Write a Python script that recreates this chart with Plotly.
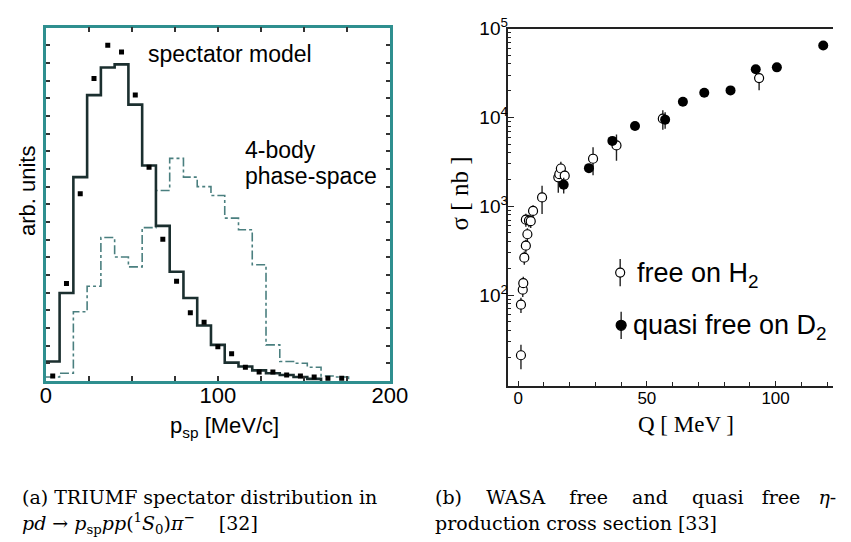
import plotly.graph_objects as go

# ---------------- Left panel: TRIUMF spectator distribution ----------------
hist_edges = [0, 8, 16, 24, 32, 40, 48, 56, 64, 72, 80, 88, 96, 104, 112, 120,
              128, 136, 144, 152, 160, 168, 176]
spectator_model = [5.5, 24.9, 57.7, 80.9, 88.7, 89.6, 78.2, 61.0, 43.9, 30.9,
                   23.5, 15.7, 10.2, 5.2, 4.1, 3.0, 2.2, 1.7, 1.1, 0.6]
phase_space = [1.1, 2.2, 19.6, 26.8, 40.6, 35.1, 32.3, 43.4, 53.9, 63.0, 57.7,
               55.0, 52.5, 46.1, 42.8, 32.9, 10.2, 5.5, 5.0, 3.9, 1.4, 1.1]
data_p = [4, 12, 20, 28, 36, 44, 52, 60, 68, 76, 84, 92, 100, 108, 116, 124,
          132, 140, 148, 156, 164, 172]
data_counts = [1.4, 27.6, 53.0, 85.6, 95.0, 93.1, 80.9, 60.5, 40.1, 28.2, 19.3,
               16.6, 9.7, 7.7, 3.9, 2.5, 2.5, 1.7, 1.4, 1.1, 0.8, 0.8]

# ---------------- Right panel: WASA eta cross sections ----------------
free_Q = [1.1, 1.1, 1.8, 2.0, 2.4, 3.0, 3.6, 3.0, 4.2, 4.9, 5.8, 9.3, 15.6, 16.0,
          16.6, 18.1, 29.1, 38.2, 56.2, 93.6]
free_sigma = [21, 78, 115, 136, 264, 360, 484, 706, 690, 680, 887, 1256, 2118,
              2300, 2661, 2209, 3428, 4843, 9680, 27740]
free_err_up = [6.5, 15, 20, 25, 45, 60, 80, 120, 110, 110, 140, 450, 700, 500,
               500, 400, 1200, 1600, 2400, 3500]
free_err_dn = [6.4, 15, 20, 25, 45, 60, 80, 120, 110, 110, 140, 440, 700, 500,
               500, 400, 1200, 1600, 2400, 7500]

quasi_Q = [17.7, 27.5, 36.6, 45.4, 57.1, 64.0, 72.3, 82.5, 92.3, 100.5, 118.5]
quasi_sigma = [1746, 2686, 5445, 8020, 9440, 15000, 18970, 20150, 34800, 36620, 64580]
quasi_err = [350, 200, 400, 600, 2000, 1000, 1400, 1500, 2600, 2700, 4500]

sigma_tickvals = [100, 1000, 10000, 100000]
sigma_ticktext = ["10<sup>2</sup>", "10<sup>3</sup>", "10<sup>4</sup>", "10<sup>5</sup>"]

legend_labels = ["free on H<sub>2</sub>", "quasi free on D<sub>2</sub>"]

W, H = 851, 542
def px_x(p):
    return p / W
def px_y(p):
    return 1 - p / H

teal = "#2f8f8f"
hist_dark = "#1b2f2f"
sans = "Liberation Sans, Arial, sans-serif"
serif = "Liberation Serif, Times New Roman, serif"
cm = "DejaVu Serif, serif"

fig = go.Figure()

# Left panel traces
fig.add_trace(go.Scatter(
    x=hist_edges[:len(phase_space) + 1], y=phase_space + [0], mode="lines",
    line=dict(shape="hv", color="#4a7f7f", width=1.6, dash="dashdot"),
    xaxis="x", yaxis="y", showlegend=False))
fig.add_trace(go.Scatter(
    x=hist_edges[:len(spectator_model) + 1], y=spectator_model + [0], mode="lines",
    line=dict(shape="hv", color=hist_dark, width=2.6),
    xaxis="x", yaxis="y", showlegend=False))
fig.add_trace(go.Scatter(
    x=data_p, y=data_counts, mode="markers",
    marker=dict(symbol="square", size=5, color="black"),
    xaxis="x", yaxis="y", showlegend=False))

# Right panel traces
fig.add_trace(go.Scatter(
    x=free_Q, y=free_sigma, mode="markers", name=legend_labels[0],
    marker=dict(symbol="circle", size=9, color="white",
                line=dict(color="black", width=1.2)),
    error_y=dict(type="data", array=free_err_up, arrayminus=free_err_dn,
                 color="#222", thickness=1.4, width=0),
    xaxis="x2", yaxis="y2", showlegend=False))
fig.add_trace(go.Scatter(
    x=quasi_Q, y=quasi_sigma, mode="markers", name=legend_labels[1],
    marker=dict(symbol="circle", size=10, color="black"),
    error_y=dict(type="data", array=quasi_err, color="#222", thickness=1.4, width=0),
    xaxis="x2", yaxis="y2", showlegend=False))

fig.update_layout(
    width=W, height=H,
    margin=dict(l=0, r=0, t=0, b=0),
    paper_bgcolor="white", plot_bgcolor="white",
    font=dict(family=sans, color="black"),
    showlegend=False,
    xaxis=dict(
        domain=[px_x(41), px_x(395)], range=[0, 200], anchor="y",
        showline=True, linecolor=teal, linewidth=2.5, mirror="ticks",
        showgrid=False, zeroline=False,
        dtick=100, tick0=0, ticks="inside", ticklen=5, tickwidth=2, tickcolor="#333",
        minor=dict(dtick=25, ticks="inside", ticklen=5, tickwidth=2, tickcolor="#333"),
        tickfont=dict(size=22, family=sans),
        ticklabelstandoff=-7,
    ),
    yaxis=dict(
        domain=[px_y(377), px_y(15)], range=[0, 100], anchor="x",
        showline=True, linecolor=teal, linewidth=2.5, mirror="ticks",
        showgrid=False, zeroline=False,
        dtick=5, tick0=0, ticks="inside", ticklen=4, tickwidth=2, tickcolor="#333",
        showticklabels=False,
    ),
    xaxis2=dict(
        domain=[px_x(517), 1.0], range=[-3.77, 122.3], anchor="y2",
        showline=True, linecolor="#222", linewidth=1.5, mirror=True,
        showgrid=False, zeroline=False,
        dtick=50, tick0=0, ticks="inside", ticklen=5, tickwidth=1, tickcolor="#222",
        minor=dict(dtick=10, ticks="inside", ticklen=4, tickwidth=1, tickcolor="#222"),
        tickfont=dict(size=17, family=sans),
        ticklabelstandoff=-4,
    ),
    yaxis2=dict(
        domain=[px_y(382), px_y(16)], type="log", range=[0.978, 5.0], anchor="x2",
        showline=True, linecolor="#222", linewidth=1.5, mirror=False,
        showgrid=False, zeroline=False,
        tickmode="array", tickvals=sigma_tickvals, ticktext=sigma_ticktext,
        ticks="inside", ticklen=6, tickwidth=1, tickcolor="#222",
        minor=dict(tickmode="array",
                   tickvals=[m * d for d in (10, 100, 1000, 10000) for m in range(2, 10)],
                   ticks="inside", ticklen=3, tickwidth=1, tickcolor="#222"),
        tickfont=dict(size=19, family=sans),
        ticklabelstandoff=-5,
    ),
)

# hand-drawn legend symbols (marker with vertical error bar)
def legend_symbol(cx, cy, filled):
    r = 5 if filled else 4.5
    return [
        dict(type="line", xref="paper", yref="paper", x0=px_x(cx), x1=px_x(cx),
             y0=px_y(cy - 14), y1=px_y(cy + 14), line=dict(color="#222", width=1.4),
             layer="above"),
        dict(type="circle", xref="paper", yref="paper", xsizemode="pixel", ysizemode="pixel",
             xanchor=px_x(cx), yanchor=px_y(cy), x0=-r, x1=r, y0=-r, y1=r,
             fillcolor="black" if filled else "white",
             line=dict(color="black", width=1.2), layer="above"),
    ]

shapes = legend_symbol(632, 266, False) + legend_symbol(633, 320, True)
fig.update_layout(shapes=shapes)

def note(text, x, y, size, family, xanchor="center", angle=0):
    return dict(text=text, x=px_x(x), y=px_y(y), xref="paper", yref="paper",
                xanchor=xanchor, yanchor="middle", textangle=angle, showarrow=False,
                font=dict(size=size, family=family))

sp4 = "    "
ann = [
    note("spectator model", 231, 42, 23, sans),
    note("4-body", 244, 140, 23, sans, "left"),
    note("phase-space", 244, 167, 23, sans, "left"),
    note("arb. units", 22, 182, 22, sans, angle=-90),
    note("p<sub>sp</sub> [MeV/c]", 225, 424, 22, sans),
    note("Q [ MeV ]", 700, 422, 23, serif),
    note("σ [ nb ]", 467, 185, 25, serif, angle=-90),
    note(legend_labels[0], 647, 268, 27, sans, "left"),
    note(legend_labels[1], 643, 322, 27, sans, "left"),
    note("(a) TRIUMF spectator distribution in", 14, 496, 19, cm, "left"),
    note("<i>pd</i> → <i>p</i><sub>sp</sub><i>pp</i>(<sup>1</sup><i>S</i><sub>0</sub>)<i>π</i><sup>−</sup>    [32]",
         14, 523, 19, cm, "left"),
    note("(b)" + sp4 + "WASA" + sp4 + "free" + sp4 + "and" + sp4 + "quasi" + "   " + "free" + "   " + "<i>η</i>-",
         439, 496, 19, cm, "left"),
    note("production cross section [33]", 439, 523, 19, cm, "left"),
]
fig.update_layout(annotations=ann)

fig.write_html("out.html")
